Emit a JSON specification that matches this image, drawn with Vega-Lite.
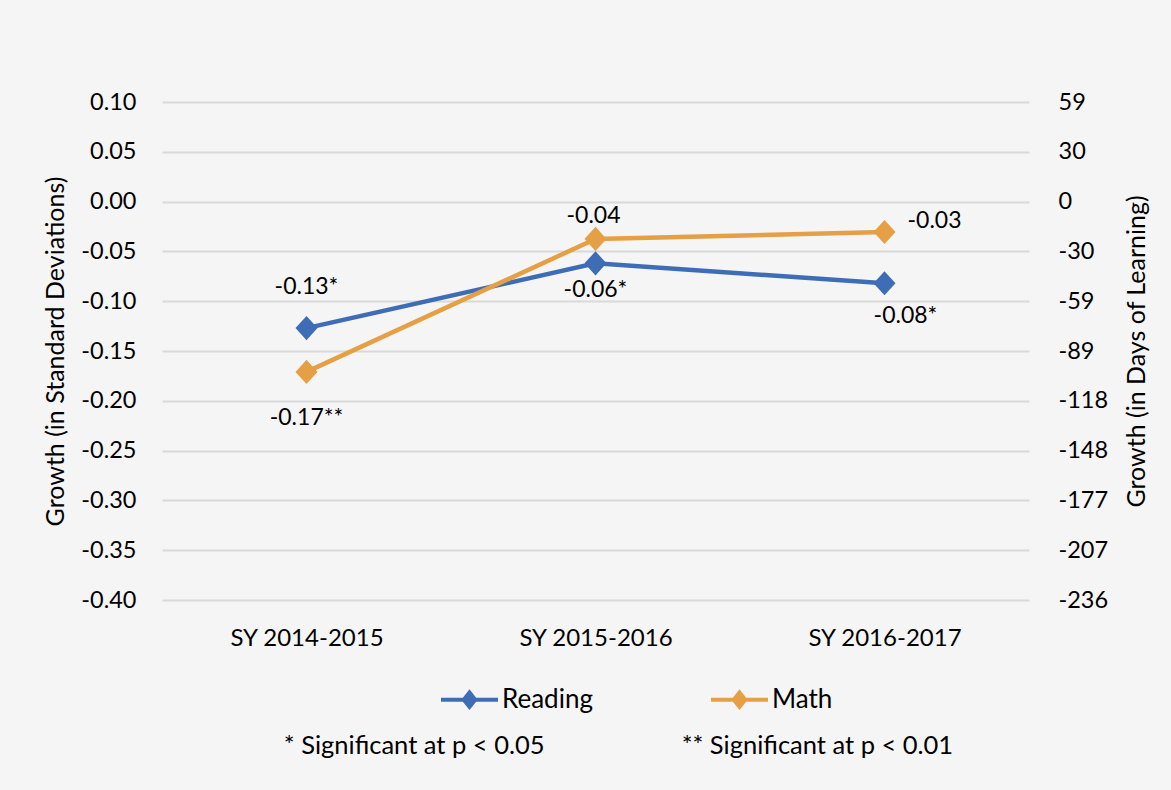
{
  "$schema": "https://vega.github.io/schema/vega-lite/v6.json",
  "width": 867,
  "height": 498,
  "autosize": {"type": "none"},
  "padding": {"left": 162, "top": 102, "right": 142, "bottom": 190},
  "background": "#f5f5f5",
  "config": {
    "view": {"stroke": null},
    "font": "Lato",
    "text": {"font": "Lato"}
  },
  "data": {
    "values": [
      {"year": "SY 2014-2015", "series": "Reading", "growth": -0.127, "label": "-0.13*"},
      {"year": "SY 2015-2016", "series": "Reading", "growth": -0.062, "label": "-0.06*"},
      {"year": "SY 2016-2017", "series": "Reading", "growth": -0.082, "label": "-0.08*"},
      {"year": "SY 2014-2015", "series": "Math", "growth": -0.171, "label": "-0.17**"},
      {"year": "SY 2015-2016", "series": "Math", "growth": -0.0375, "label": "-0.04"},
      {"year": "SY 2016-2017", "series": "Math", "growth": -0.0305, "label": "-0.03"}
    ]
  },
  "resolve": {"scale": {"y": "independent"}},
  "layer": [
    {
      "encoding": {
        "x": {
          "field": "year",
          "type": "nominal",
          "sort": null,
          "scale": {"paddingInner": 0, "paddingOuter": 0},
          "axis": {
            "labelAngle": 0,
            "ticks": false,
            "domain": false,
            "labelFont": "Lato",
            "labelFontSize": 24,
            "labelColor": "#000000",
            "labelPadding": 26,
            "title": "* Significant at p < 0.05\u00a0\u00a0\u00a0\u00a0\u00a0\u00a0\u00a0\u00a0\u00a0\u00a0\u00a0\u00a0\u00a0\u00a0\u00a0\u00a0\u00a0\u00a0\u00a0\u00a0\u00a0** Significant at p < 0.01",
            "titleFont": "Lato",
            "titleFontSize": 25.5,
            "titleFontWeight": "normal",
            "titleColor": "#000000",
            "titleX": 456,
            "titleY": 145,
            "titleBaseline": "middle",
            "titleAlign": "center"
          }
        },
        "y": {
          "field": "growth",
          "type": "quantitative",
          "scale": {"domain": [-0.4, 0.1], "nice": false, "zero": false},
          "axis": {
            "values": [-0.4, -0.35, -0.3, -0.25, -0.2, -0.15, -0.1, -0.05, 0, 0.05, 0.1],
            "labelExpr": "replace(format(datum.value, '.2f'), '\u2212', '-')",
            "ticks": false,
            "domain": false,
            "grid": true,
            "gridColor": "#d9d9d9",
            "gridWidth": 2,
            "labelFont": "Lato",
            "labelFontSize": 23.5,
            "labelColor": "#000000",
            "labelPadding": 26,
            "title": "Growth (in Standard Deviations)",
            "titleFont": "Lato",
            "titleFontSize": 25,
            "titleFontWeight": "normal",
            "titleColor": "#000000",
            "titlePadding": 12
          }
        }
      },
      "layer": [
        {
          "mark": {"type": "line", "strokeWidth": 4.5},
          "encoding": {
            "color": {
              "field": "series",
              "type": "nominal",
              "scale": {"domain": ["Reading", "Math"], "range": ["#3f6db5", "#e59f45"]},
              "legend": {
                "title": null,
                "orient": "none",
                "direction": "horizontal",
                "legendX": 277,
                "legendY": 567,
                "padding": 0,
                "symbolType": "M-1,0L1,0M0,-0.25L0.2,0L0,0.25L-0.2,0Z",
                "symbolSize": 3249,
                "symbolStrokeWidth": 4,
                "symbolOpacity": 1,
                "labelOffset": 2,
                "columnPadding": 110,
                "labelFont": "Lato",
                "labelFontSize": 26,
                "labelColor": "#000000",
                "encode": {
                  "symbols": {
                    "update": {
                      "stroke": {"scale": "color", "field": "value"},
                      "fill": {"scale": "color", "field": "value"},
                      "strokeWidth": {"value": 4}
                    }
                  }
                }
              }
            }
          }
        },
        {
          "mark": {"type": "point", "filled": true, "opacity": 1, "size": 484, "shape": "M0,-1.1L1,0L0,1.1L-1,0Z"},
          "encoding": {
            "color": {
              "field": "series",
              "type": "nominal",
              "scale": {"domain": ["Reading", "Math"], "range": ["#3f6db5", "#e59f45"]},
              "legend": {
                "title": null,
                "orient": "none",
                "direction": "horizontal",
                "legendX": 277,
                "legendY": 567,
                "padding": 0,
                "symbolType": "M-1,0L1,0M0,-0.25L0.2,0L0,0.25L-0.2,0Z",
                "symbolSize": 3249,
                "symbolStrokeWidth": 4,
                "symbolOpacity": 1,
                "labelOffset": 2,
                "columnPadding": 110,
                "labelFont": "Lato",
                "labelFontSize": 26,
                "labelColor": "#000000",
                "encode": {
                  "symbols": {
                    "update": {
                      "stroke": {"scale": "color", "field": "value"},
                      "fill": {"scale": "color", "field": "value"},
                      "strokeWidth": {"value": 4}
                    }
                  }
                }
              }
            }
          }
        },
        {
          "transform": [{"filter": "datum.series == 'Reading' && datum.year == 'SY 2014-2015'"}],
          "mark": {"type": "text", "fontSize": 23, "font": "Lato", "color": "#000000", "baseline": "middle", "dy": -41},
          "encoding": {"text": {"field": "label"}}
        },
        {
          "transform": [{"filter": "datum.series == 'Math' && datum.year == 'SY 2014-2015'"}],
          "mark": {"type": "text", "fontSize": 23, "font": "Lato", "color": "#000000", "baseline": "middle", "dy": 46},
          "encoding": {"text": {"field": "label"}}
        },
        {
          "transform": [{"filter": "datum.series == 'Math' && datum.year == 'SY 2015-2016'"}],
          "mark": {"type": "text", "fontSize": 23, "font": "Lato", "color": "#000000", "baseline": "middle", "dy": -23, "dx": -2},
          "encoding": {"text": {"field": "label"}}
        },
        {
          "transform": [{"filter": "datum.series == 'Reading' && datum.year == 'SY 2015-2016'"}],
          "mark": {"type": "text", "fontSize": 23, "font": "Lato", "color": "#000000", "baseline": "middle", "dy": 27},
          "encoding": {"text": {"field": "label"}}
        },
        {
          "transform": [{"filter": "datum.series == 'Reading' && datum.year == 'SY 2016-2017'"}],
          "mark": {"type": "text", "fontSize": 23, "font": "Lato", "color": "#000000", "baseline": "middle", "dy": 33, "dx": 21},
          "encoding": {"text": {"field": "label"}}
        },
        {
          "transform": [{"filter": "datum.series == 'Math' && datum.year == 'SY 2016-2017'"}],
          "mark": {"type": "text", "fontSize": 23, "font": "Lato", "color": "#000000", "baseline": "middle", "align": "left", "dy": -11, "dx": 23},
          "encoding": {"text": {"field": "label"}}
        }
      ]
    },
    {
      "mark": {"type": "point", "opacity": 0},
      "encoding": {
        "x": {"field": "year", "type": "nominal", "sort": null},
        "y": {
          "field": "growth",
          "type": "quantitative",
          "scale": {"domain": [-0.4, 0.1], "nice": false, "zero": false},
          "axis": {
            "orient": "right",
            "values": [-0.4, -0.35, -0.3, -0.25, -0.2, -0.15, -0.1, -0.05, 0, 0.05, 0.1],
            "labelExpr": "(datum.value < -0.0001 ? '-' : '') + round(abs(datum.value) * 590 + 0.001)",
            "ticks": false,
            "domain": false,
            "grid": false,
            "labelFont": "Lato",
            "labelFontSize": 23.5,
            "labelColor": "#000000",
            "labelPadding": 29,
            "title": "Growth (in Days of Learning)",
            "titleFont": "Lato",
            "titleFontSize": 25,
            "titleFontWeight": "normal",
            "titleColor": "#000000",
            "titleAngle": -90,
            "titleBaseline": "top",
            "titlePadding": 17
          }
        }
      }
    }
  ]
}
